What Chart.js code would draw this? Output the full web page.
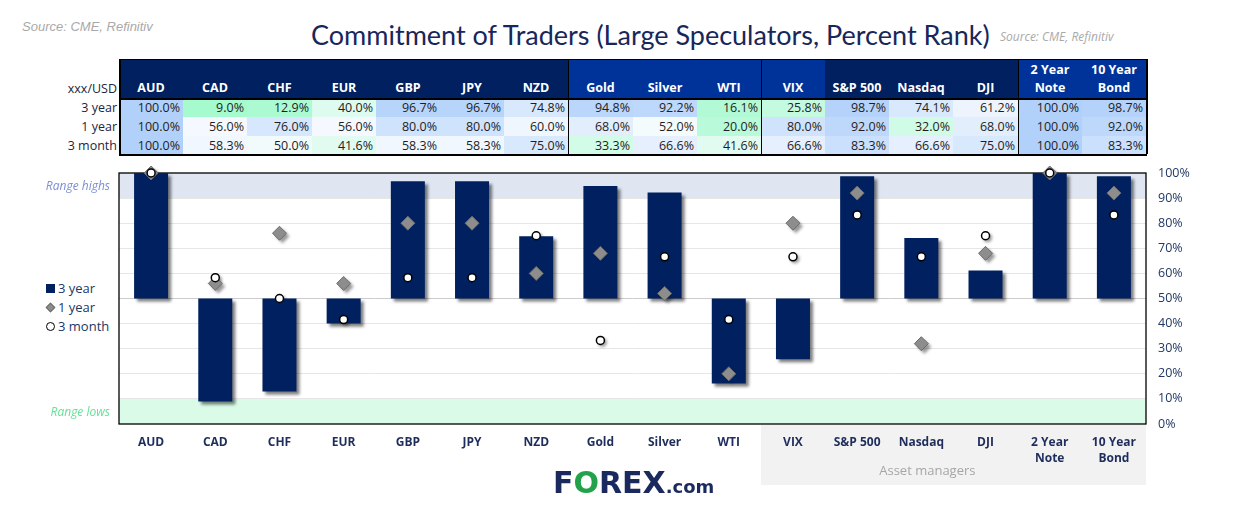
<!DOCTYPE html>
<html>
<head>
<meta charset="utf-8">
<script src="https://cdn.jsdelivr.net/npm/chart.js@4.4.1/dist/chart.umd.min.js"></script>
<style>
  html, body { margin: 0; padding: 0; background: #fff; }
  body { width: 1247px; height: 516px; position: relative; overflow: hidden; font-family: 'Open Sans', sans-serif; }
  .src { position: absolute; color: #a9a9a9; font-style: italic; white-space: nowrap; }
  #title { position: absolute; left: 311px; top: 18px; font-family: 'Lato', sans-serif; font-size: 27px; color: #17275a; white-space: nowrap; }
  #chartWrap { position: absolute; left: 0; top: 160px; width: 1247px; height: 340px; }
  .cell { position: absolute; box-sizing: border-box; white-space: nowrap; }
  .hd { color: #fff; font-weight: bold; font-size: 12.5px; line-height: 18px; text-align: center; display: flex; flex-direction: column; justify-content: flex-end; padding-bottom: 1px; }
  .val { font-size: 12.5px; line-height: 19px; text-align: right; padding-right: 3px; color: #1e1e1e; }
  .lab { font-size: 12.5px; line-height: 19px; text-align: right; color: #1c2540; }
  .line { position: absolute; background: #000; }
  #legend { position: absolute; left: 46px; top: 279px; font-size: 13px; color: #203864; }
  #legend div { height: 19px; line-height: 19px; position: relative; padding-left: 12px; }
  #legend i { position: absolute; box-sizing: border-box; }
  #logo { position: absolute; left: 553px; top: 465px; font-family: 'DejaVu Sans', sans-serif; font-weight: bold; color: #1b2a5e; white-space: nowrap; }
</style>
</head>
<body>
<div class="src" style="left:22px;top:19px;font-family:'Liberation Sans',Arial,sans-serif;font-size:13px;">Source: CME, Refinitiv</div>
<div id="title">Commitment of Traders (Large Speculators, Percent Rank)</div>
<div class="src" style="left:1000px;top:28px;font-size:12px;">Source: CME, Refinitiv</div>
<div id="table"></div>
<div id="legend"></div>
<div id="chartWrap"><canvas id="cot" width="1247" height="340"></canvas></div>
<div id="logo"><span style="font-size:30px;">F</span><span style="font-size:30px;color:#22a34b;">O</span><span style="font-size:30px;">REX</span><span style="font-size:18px;">.com</span></div>

<script>
// ── data ──
const categories = ['AUD', 'CAD', 'CHF', 'EUR', 'GBP', 'JPY', 'NZD', 'Gold', 'Silver', 'WTI',
  'VIX', 'S&P 500', 'Nasdaq', 'DJI', ['2 Year', 'Note'], ['10 Year', 'Bond']];
const threeYear  = [100.0, 9.0, 12.9, 40.0, 96.7, 96.7, 74.8, 94.8, 92.2, 16.1, 25.8, 98.7, 74.1, 61.2, 100.0, 98.7];
const oneYear    = [100.0, 56.0, 76.0, 56.0, 80.0, 80.0, 60.0, 68.0, 52.0, 20.0, 80.0, 92.0, 32.0, 68.0, 100.0, 92.0];
const threeMonth = [100.0, 58.3, 50.0, 41.6, 58.3, 58.3, 75.0, 33.3, 66.6, 41.6, 66.6, 83.3, 66.6, 75.0, 100.0, 83.3];
const seriesNames = ['3 year', '1 year', '3 month'];
const cornerLabel = 'xxx/USD';
const bandLabels = ['Range highs', 'Range lows'];
const groupNote = 'Asset managers';

// header shading per column group (style only)
const HEAD_DARK = '#002060', HEAD_MID = '#003399';
const headColor = i => (i <= 6 || (i >= 11 && i <= 13)) ? HEAD_DARK : HEAD_MID;
const GROUP_BREAKS = [7, 10, 14];

// heatmap colour for the table cells: green (low) → white → blue (high)
function heat(v) {
  const g = [165, 250, 206], w = [248, 251, 255], b = [178, 209, 250];
  const mid = 54;
  let a, c, t;
  if (v <= mid) { a = g; c = w; t = Math.max(0, (v - 9) / (mid - 9)); }
  else { a = w; c = b; t = (v - mid) / (100 - mid); }
  const m = a.map((x, k) => Math.round(x + (c[k] - x) * t));
  return `rgb(${m[0]},${m[1]},${m[2]})`;
}

// ── plugins ──
const bandsPlugin = {
  id: 'bands',
  beforeDraw(chart) {
    const { ctx, chartArea: { left, right, top, bottom }, scales: { x, y } } = chart;
    ctx.save();
    // range bands
    ctx.fillStyle = '#dfe5f1';
    ctx.fillRect(left, y.getPixelForValue(100), right - left, y.getPixelForValue(90) - y.getPixelForValue(100));
    ctx.fillStyle = '#d9fbe7';
    ctx.fillRect(left, y.getPixelForValue(10), right - left, y.getPixelForValue(0) - y.getPixelForValue(10));
    ctx.font = "italic 12px 'Open Sans'";
    ctx.textAlign = 'right'; ctx.textBaseline = 'middle';
    ctx.fillStyle = '#7b8fd3';
    ctx.fillText(bandLabels[0], 110, y.getPixelForValue(95) + 1);
    ctx.fillStyle = '#63e296';
    ctx.fillText(bandLabels[1], 110, y.getPixelForValue(5) + 1);
    // grey panel behind asset-manager labels
    const px = (x.getPixelForValue(9) + x.getPixelForValue(10)) / 2;
    ctx.fillStyle = '#f2f2f2';
    ctx.fillRect(px, bottom + 1, right - px, 60);
    ctx.fillStyle = '#a6a6a6';
    ctx.font = "13px 'Open Sans'";
    ctx.textAlign = 'center';
    ctx.fillText(groupNote, x.getPixelForValue(12) + 6, bottom + 47);
    ctx.restore();
  },
  beforeDatasetsDraw(chart) {
    const { ctx, chartArea: { left, right, top, bottom } } = chart;
    ctx.save();
    ctx.strokeStyle = '#000'; ctx.lineWidth = 1.3;
    ctx.strokeRect(left, top, right - left, bottom - top);
    ctx.restore();
  }
};

// soft drop shadows under bars and markers, painted before the datasets
const shadowPlugin = {
  id: 'dropShadow',
  beforeDatasetsDraw(chart) {
    const ctx = chart.ctx;
    ctx.save();
    ctx.filter = 'blur(1.5px)';
    ctx.fillStyle = 'rgba(0,0,0,0.5)';
    chart.getDatasetMeta(0).data.forEach(b => {
      const { x, y, base, width } = b.getProps(['x', 'y', 'base', 'width'], true);
      const t = Math.min(y, base), h = Math.abs(base - y);
      ctx.fillRect(x - width / 2 + 3, t + 3, width, h);
    });
    ctx.fillStyle = 'rgba(0,0,0,0.4)';
    chart.getDatasetMeta(1).data.forEach(p => {
      const { x, y } = p.getProps(['x', 'y'], true);
      ctx.beginPath();
      ctx.moveTo(x + 3, y + 3 - 7); ctx.lineTo(x + 3 + 7, y + 3);
      ctx.lineTo(x + 3, y + 3 + 7); ctx.lineTo(x + 3 - 7, y + 3);
      ctx.closePath(); ctx.fill();
    });
    chart.getDatasetMeta(2).data.forEach(p => {
      const { x, y } = p.getProps(['x', 'y'], true);
      ctx.beginPath(); ctx.arc(x + 2, y + 2, 4.5, 0, Math.PI * 2); ctx.fill();
    });
    ctx.restore();
  }
};

const chart = new Chart(document.getElementById('cot'), {
  type: 'bar',
  data: {
    labels: categories,
    datasets: [
      { type: 'bar', label: seriesNames[0], data: threeYear.map(v => [50, v]),
        backgroundColor: '#002060', borderWidth: 0, barPercentage: 0.53, categoryPercentage: 1, order: 3 },
      { type: 'line', label: seriesNames[1], data: oneYear, showLine: false, clip: false,
        pointStyle: 'rectRot', pointRadius: 7, pointBackgroundColor: '#8d8d8d',
        pointBorderColor: '#6b6b6b', pointBorderWidth: 1, order: 2 },
      { type: 'line', label: seriesNames[2], data: threeMonth, showLine: false, clip: false,
        pointStyle: 'circle', pointRadius: 4, pointBackgroundColor: '#fff',
        pointBorderColor: '#000', pointBorderWidth: 1.5, order: 1 }
    ]
  },
  options: {
    responsive: false, animation: false,
    layout: { padding: { left: 119, top: 13, right: 0, bottom: 0 } },
    plugins: { legend: { display: false }, tooltip: { enabled: false } },
    scales: {
      x: {
        grid: { display: false }, border: { display: false },
        ticks: { color: '#1f2d5c', font: { family: "'Open Sans'", size: 12, weight: 'bold', lineHeight: 1.35 },
                 padding: 2, maxRotation: 0, autoSkip: false },
        afterFit(s) { s.height = 76; }
      },
      y: {
        position: 'right', min: 0, max: 100,
        border: { display: false },
        grid: { drawTicks: false, lineWidth: 1,
                color: c => c.tick.value === 50 ? '#cccccc' : (c.tick.value % 100 === 0 ? 'rgba(0,0,0,0)' : '#e6e6e6') },
        ticks: { stepSize: 10, callback: v => v + '%', color: '#203864',
                 font: { family: "'Open Sans'", size: 12.5 }, padding: 12 },
        afterFit(s) { s.width = 101; s.paddingTop = 0; s.paddingBottom = 0; }
      }
    }
  },
  plugins: [bandsPlugin, shadowPlugin]
});

// ── table above the chart, aligned to the category scale ──
(function buildTable() {
  const xs = chart.scales.x;
  const tbl = document.getElementById('table');
  const step = xs.getPixelForValue(1) - xs.getPixelForValue(0);
  const L = chart.chartArea.left, R = chart.chartArea.right;
  const top = 59, headH = 39, rowH = [19, 19, 18];
  const rows = [threeYear, oneYear, threeMonth];
  let out = '';
  const colLeft = i => Math.round(xs.getPixelForValue(i) - step / 2);
  const colRight = i => Math.round(xs.getPixelForValue(i) + step / 2);
  categories.forEach((c, i) => {
    const l = colLeft(i), w = colRight(i) - l;
    const txt = Array.isArray(c) ? c.map(t => `<div>${t.replace('&', '&amp;')}</div>`).join('') : `<div>${c.replace('&', '&amp;')}</div>`;
    out += `<div class="cell hd" style="left:${l}px;top:${top}px;width:${w}px;height:${headH}px;background:${headColor(i)}">${txt}</div>`;
    let y = top + headH;
    rows.forEach((r, k) => {
      out += `<div class="cell val" style="left:${l}px;top:${y}px;width:${w}px;height:${rowH[k]}px;background:${heat(r[i])}">${r[i].toFixed(1)}%</div>`;
      y += rowH[k];
    });
  });
  // row labels
  out += `<div class="cell lab" style="left:${L - 80}px;top:${top + headH - 19}px;width:78px;height:19px;">${cornerLabel}</div>`;
  let y = top + headH;
  seriesNames.forEach((n, k) => {
    out += `<div class="cell lab" style="left:${L - 80}px;top:${y}px;width:78px;height:${rowH[k]}px;">${n}</div>`;
    y += rowH[k];
  });
  const bottom = y;
  // borders
  out += `<div class="line" style="left:${L}px;top:${top}px;width:${R - L}px;height:1px"></div>`;
  out += `<div class="line" style="left:${L}px;top:${top + headH}px;width:${R - L}px;height:1.5px"></div>`;
  out += `<div class="line" style="left:${L}px;top:${bottom}px;width:${R - L + 1}px;height:1.5px"></div>`;
  out += `<div class="line" style="left:${L}px;top:${top}px;width:1.5px;height:${bottom - top}px"></div>`;
  out += `<div class="line" style="left:${R}px;top:${top}px;width:1.5px;height:${bottom - top}px"></div>`;
  GROUP_BREAKS.forEach(i => {
    out += `<div class="line" style="left:${colLeft(i)}px;top:${top}px;width:1.2px;height:${bottom - top}px"></div>`;
  });
  tbl.innerHTML = out;
})();

// ── legend ──
(function buildLegend() {
  const marks = [
    '<i style="left:0;top:5px;width:9px;height:9px;background:#002060"></i>',
    '<i style="left:1px;top:6px;width:7px;height:7px;background:#8d8d8d;border:1px solid #6b6b6b;transform:rotate(45deg)"></i>',
    '<i style="left:0;top:5px;width:9px;height:9px;background:#fff;border:1.5px solid #000;border-radius:50%"></i>'
  ];
  document.getElementById('legend').innerHTML =
    seriesNames.map((n, k) => `<div>${marks[k]}${n}</div>`).join('');
})();
</script>
</body>
</html>
